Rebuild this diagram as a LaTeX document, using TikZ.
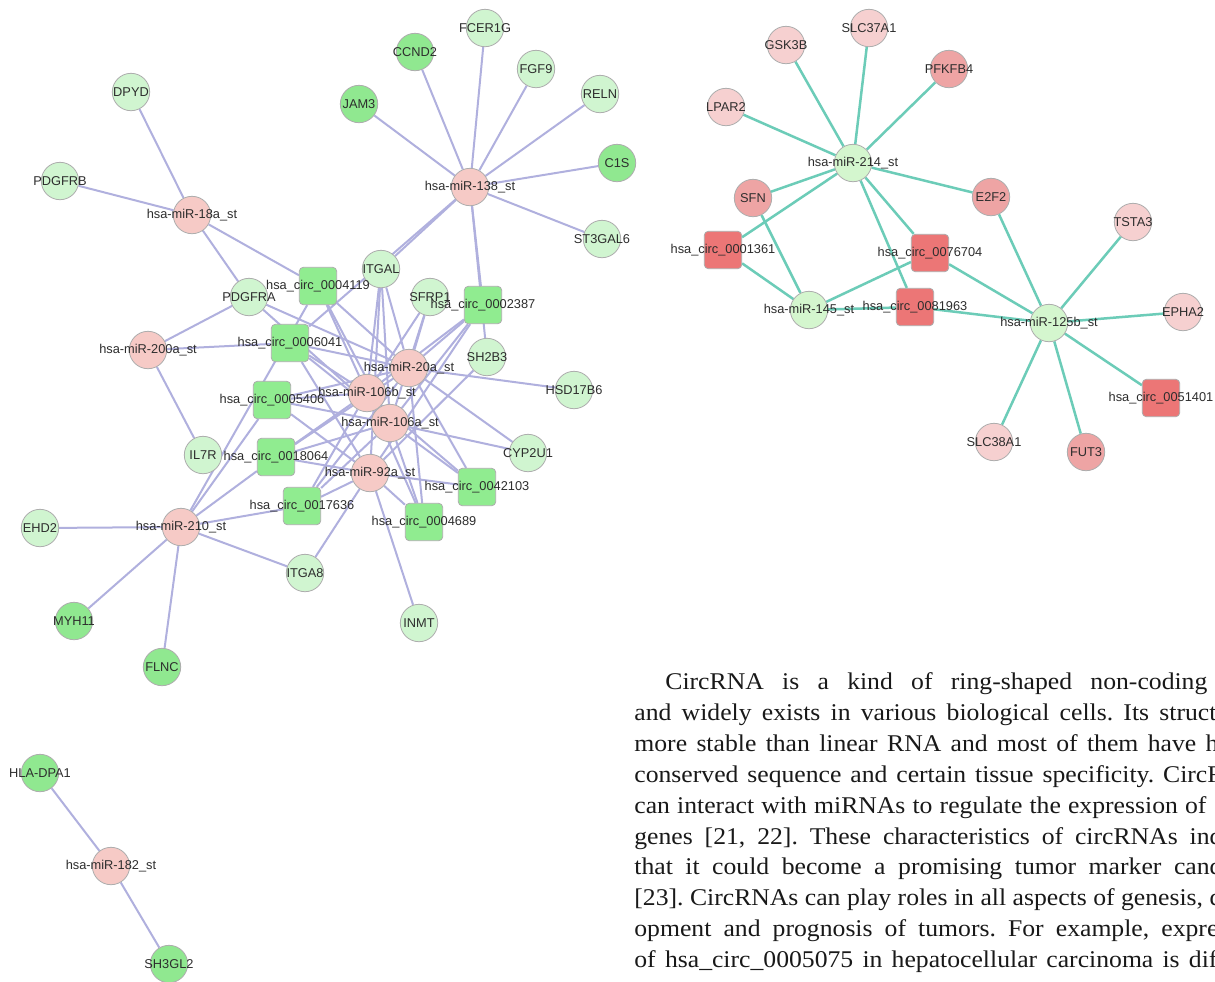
\documentclass[tikz,border=0pt]{standalone}
\usepackage{fontspec}
\setmainfont{Liberation Sans}
\newfontfamily\parafont[FakeStretch=1.07]{Liberation Serif}
\newlength\pxu \setlength\pxu{0.5pt}
\definecolor{edgeL}{RGB}{176,176,222}
\definecolor{edgeR}{RGB}{108,204,184}
\definecolor{gpale}{RGB}{208,245,208}
\definecolor{gsat}{RGB}{144,232,144}
\definecolor{gsq}{RGB}{144,236,144}
\definecolor{pinkm}{RGB}{246,202,198}
\definecolor{rlight}{RGB}{246,208,208}
\definecolor{rdark}{RGB}{238,164,164}
\definecolor{rsq}{RGB}{236,118,118}
\definecolor{gmir}{RGB}{212,246,206}
\definecolor{txt}{RGB}{45,45,45}
\definecolor{paratxt}{RGB}{25,25,25}
\pgfdeclarelayer{bg}
\pgfsetlayers{bg,main}
\tikzset{
  lbl/.style={font=\fontsize{6.4pt}{7pt}\selectfont, text=txt, inner sep=0pt},
  basenode/.style={inner sep=0pt, minimum size=18.7pt, draw=black!32, line width=0.4pt},
  cn/.style 2 args={basenode, circle, fill=#1, label={[lbl]center:#2}},
  sq/.style 2 args={basenode, rectangle, rounded corners=2pt, fill=#1, label={[lbl]center:#2}},
  eL/.style={draw=edgeL, line width=1pt},
  eR/.style={draw=edgeR, line width=1.25pt},
  para/.style={anchor=base west, inner sep=0pt, text=paratxt, font=\parafont\fontsize{12pt}{14pt}\selectfont\frenchspacing}
}
\begin{document}
\begin{tikzpicture}[x=0.5pt,y=-0.5pt]
\useasboundingbox (0,0) rectangle (1215,981);
\begin{pgfonlayer}{bg}
\fill[white] (0,0) rectangle (1215,981);
\end{pgfonlayer}
% ---------- left network ----------
\node[cn={gpale}{DPYD}] (DPYD) at (131,92) {};
\node[cn={gpale}{PDGFRB}] (PDGFRB) at (60,181) {};
\node[cn={gpale}{FCER1G}] (FCER1G) at (485,28) {};
\node[cn={gsat}{CCND2}] (CCND2) at (415,52) {};
\node[cn={gpale}{FGF9}] (FGF9) at (536,69) {};
\node[cn={gpale}{RELN}] (RELN) at (600,94) {};
\node[cn={gsat}{JAM3}] (JAM3) at (359,104) {};
\node[cn={gsat}{C1S}] (C1S) at (617,163) {};
\node[cn={gpale}{ST3GAL6}] (ST3GAL6) at (602,239) {};
\node[cn={gpale}{ITGAL}] (ITGAL) at (381,269) {};
\node[cn={gpale}{SFRP1}] (SFRP1) at (430,297) {};
\node[cn={gpale}{PDGFRA}] (PDGFRA) at (249,297) {};
\node[cn={gpale}{SH2B3}] (SH2B3) at (487,357) {};
\node[cn={gpale}{HSD17B6}] (HSD17B6) at (574,390) {};
\node[cn={gpale}{IL7R}] (IL7R) at (203,455) {};
\node[cn={gpale}{CYP2U1}] (CYP2U1) at (528,453) {};
\node[cn={gpale}{EHD2}] (EHD2) at (40,528) {};
\node[cn={gpale}{ITGA8}] (ITGA8) at (305,573) {};
\node[cn={gsat}{MYH11}] (MYH11) at (74,621) {};
\node[cn={gsat}{FLNC}] (FLNC) at (162,667) {};
\node[cn={gpale}{INMT}] (INMT) at (419,623) {};
\node[cn={gsat}{HLA-DPA1}] (HLADPA1) at (40,773) {};
\node[cn={gsat}{SH3GL2}] (SH3GL2) at (169,964) {};
\node[cn={pinkm}{hsa-miR-182\_st}] (m182) at (111,866) {};
\node[cn={pinkm}{hsa-miR-18a\_st}] (m18a) at (192,215) {};
\node[cn={pinkm}{hsa-miR-138\_st}] (m138) at (470,187) {};
\node[cn={pinkm}{hsa-miR-200a\_st}] (m200a) at (148,350) {};
\node[cn={pinkm}{hsa-miR-210\_st}] (m210) at (181,527) {};
\node[cn={pinkm}{hsa-miR-20a\_st}] (m20a) at (409,368) {};
\node[cn={pinkm}{hsa-miR-106b\_st}] (m106b) at (367,393) {};
\node[cn={pinkm}{hsa-miR-106a\_st}] (m106a) at (390,423) {};
\node[cn={pinkm}{hsa-miR-92a\_st}] (m92a) at (370,473) {};
\node[sq={gsq}{hsa\_circ\_0004119}] (c4119) at (318,286) {};
\node[sq={gsq}{hsa\_circ\_0002387}] (c2387) at (483,305) {};
\node[sq={gsq}{hsa\_circ\_0006041}] (c6041) at (290,343) {};
\node[sq={gsq}{hsa\_circ\_0005406}] (c5406) at (272,400) {};
\node[sq={gsq}{hsa\_circ\_0018064}] (c18064) at (276,457) {};
\node[sq={gsq}{hsa\_circ\_0042103}] (c42103) at (477,487) {};
\node[sq={gsq}{hsa\_circ\_0017636}] (c17636) at (302,506) {};
\node[sq={gsq}{hsa\_circ\_0004689}] (c4689) at (424,522) {};
% ---------- right network ----------
\node[cn={rlight}{GSK3B}] (GSK3B) at (786,45) {};
\node[cn={rlight}{SLC37A1}] (SLC37A1) at (869,28) {};
\node[cn={rdark}{PFKFB4}] (PFKFB4) at (949,69) {};
\node[cn={rlight}{LPAR2}] (LPAR2) at (726,107) {};
\node[cn={rdark}{SFN}] (SFN) at (753,198) {};
\node[cn={rdark}{E2F2}] (E2F2) at (991,197) {};
\node[cn={rlight}{TSTA3}] (TSTA3) at (1133,222) {};
\node[cn={rlight}{EPHA2}] (EPHA2) at (1183,312) {};
\node[cn={rlight}{SLC38A1}] (SLC38A1) at (994,442) {};
\node[cn={rdark}{FUT3}] (FUT3) at (1086,452) {};
\node[cn={gmir}{hsa-miR-214\_st}] (m214) at (853,163) {};
\node[cn={gmir}{hsa-miR-145\_st}] (m145) at (809,310) {};
\node[cn={gmir}{hsa-miR-125b\_st}] (m125b) at (1049,323) {};
\node[sq={rsq}{hsa\_circ\_0001361}] (c1361) at (723,250) {};
\node[sq={rsq}{hsa\_circ\_0076704}] (c76704) at (930,253) {};
\node[sq={rsq}{hsa\_circ\_0081963}] (c81963) at (915,307) {};
\node[sq={rsq}{hsa\_circ\_0051401}] (c51401) at (1161,398) {};
% ---------- edges ----------
\begin{pgfonlayer}{bg}
\foreach \t in {FCER1G,CCND2,FGF9,RELN,JAM3,C1S,ST3GAL6,ITGAL,c6041,SH2B3,c2387}
  \draw[eL] (m138) -- (\t);
\foreach \t in {DPYD,PDGFRB,PDGFRA,c4119}
  \draw[eL] (m18a) -- (\t);
\foreach \t in {PDGFRA,c6041,IL7R}
  \draw[eL] (m200a) -- (\t);
\foreach \t in {EHD2,MYH11,FLNC,ITGA8,c17636,c18064,c5406,c4119}
  \draw[eL] (m210) -- (\t);
\foreach \t in {HLADPA1,SH3GL2}
  \draw[eL] (m182) -- (\t);
\foreach \t in {ITGAL,SFRP1,c2387,HSD17B6,CYP2U1,c42103,c4689,c17636,c18064,c5406,c6041,c4119,PDGFRA}
  \draw[eL] (m20a) -- (\t);
\foreach \t in {ITGAL,SFRP1,c2387,c42103,c4689,c17636,c18064,c5406,c6041,c4119}
  \draw[eL] (m106b) -- (\t);
\foreach \t in {ITGAL,SFRP1,c2387,CYP2U1,c42103,c4689,c17636,c18064,c5406,c6041,c4119,PDGFRA}
  \draw[eL] (m106a) -- (\t);
\foreach \t in {ITGAL,c2387,SH2B3,c42103,c4689,c17636,c18064,c5406,c6041,ITGA8,INMT}
  \draw[eL] (m92a) -- (\t);
\foreach \t in {GSK3B,SLC37A1,PFKFB4,LPAR2,SFN,E2F2,c1361,c76704,c81963}
  \draw[eR] (m214) -- (\t);
\foreach \t in {SFN,c1361,c76704,c81963}
  \draw[eR] (m145) -- (\t);
\foreach \t in {E2F2,TSTA3,EPHA2,c51401,FUT3,SLC38A1,c76704,c81963}
  \draw[eR] (m125b) -- (\t);
\end{pgfonlayer}
% ---------- text column ----------
\begin{scope}
\clip (0,0) rectangle (1215,981);
\node[para] (p1) at (665,689) {\makebox[542\pxu][s]{CircRNA is a kind of ring-shaped non-coding}};
\node[para] (p2) at (634,720) {\makebox[582\pxu][s]{and widely exists in various biological cells. Its struct}};
\node[para] (p3) at (634,751) {\makebox[584\pxu][s]{more stable than linear RNA and most of them have h}};
\node[para] (p4) at (634,782) {\makebox[590\pxu][s]{conserved sequence and certain tissue specificity. CircR}};
\node[para] (p5) at (634,813) {\makebox[572\pxu][s]{can interact with miRNAs to regulate the expression of}};
\node[para] (p6) at (634,844) {\makebox[588\pxu][s]{genes [21, 22]. These characteristics of circRNAs ind}};
\node[para] (p7) at (634,874) {\makebox[588\pxu][s]{that it could become a promising tumor marker cand}};
\node[para] (p8) at (634,905) {\makebox[588\pxu][s]{[23]. CircRNAs can play roles in all aspects of genesis, d}};
\node[para] (p9) at (634,936) {\makebox[584\pxu][s]{opment and prognosis of tumors. For example, expre}};
\node[para] (p10) at (634,967) {\makebox[583\pxu][s]{of hsa\_circ\_0005075 in hepatocellular carcinoma is dif}};
\end{scope}
\end{tikzpicture}
\end{document}
